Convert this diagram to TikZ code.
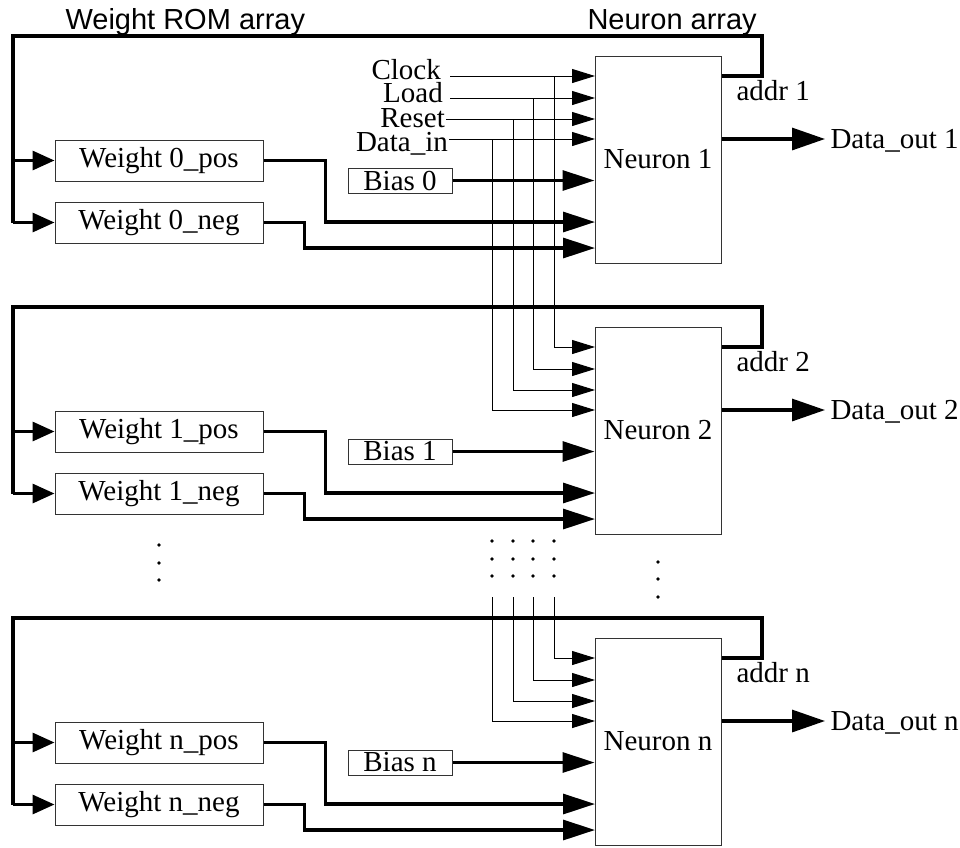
\documentclass[tikz,border=0pt]{standalone}
\usepackage{fontspec}
\setmainfont{Liberation Serif}
\newfontfamily\headfont{Liberation Sans}
\usetikzlibrary{arrows.meta}

\tikzset{
    wbox/.style={draw=black!80, line width=1pt, minimum width=208pt, minimum height=41pt, inner sep=0pt},
    neuron/.style={draw=black!80, line width=1pt, minimum width=126pt, minimum height=207pt, inner sep=0pt},
    biasbox/.style={draw=black!80, line width=1pt, minimum width=104pt, minimum height=25pt, inner sep=0pt},
    head/.style={font=\fontsize{29pt}{34pt}\headfont, anchor=base west},
    ctrl/.style={anchor=base east, inner sep=0pt},
    bus/.style={line width=3.2pt},
    sig/.style={line width=1pt},
    sigarrow/.style={sig, -{Triangle[length=23pt,width=14pt]}},
    busarrow/.style={bus, -{Triangle[length=32pt,width=20pt]}},
    romarrow/.style={bus, -{Triangle[length=22pt,width=19pt]}},
    outarrow/.style={bus, -{Triangle[length=33pt,width=22pt]}},
}

\begin{document}
\begin{tikzpicture}[x=1pt, y=-1pt, font=\fontsize{29pt}{34pt}\selectfont]
    \useasboundingbox (0,0) rectangle (960,847);

    % Headings
    \node[head] (romhead) at (62,29) {Weight ROM array};
    \node[head] (neuhead) at (584,29) {Neuron array};

    % Stages
    \foreach \i/\s/\w/\dy in {1/1/0/0, 2/2/1/271, 3/n/n/582} {
        \node[neuron] (neu\i) at (658,{159.5+\dy}) {Neuron \s};
        \node[wbox] (wpos\i) at (159,{160.5+\dy}) {Weight \w\_pos};
        \node[wbox] (wneg\i) at (159,{222.5+\dy}) {Weight \w\_neg};
        \node[biasbox] (bias\i) at (400,{180.5+\dy}) {Bias \w};

        % Address bus
        \coordinate (ad\i) at (762,{76+\dy});
        \coordinate (tl\i) at (13,{36+\dy});
        \draw[bus] (neu\i.east |- ad\i) -- (ad\i) |- (tl\i) -- (tl\i |- wneg\i.west);
        \draw[romarrow] (tl\i |- wpos\i.west) -- (wpos\i.west);
        \draw[romarrow] (tl\i |- wneg\i.west) -- (wneg\i.west);
        \node[anchor=base west] (addr\i) at (733,{100+\dy}) {addr \s};

        % Weights and bias into neuron
        \coordinate (ip\i) at (595,{222+\dy});
        \coordinate (in\i) at (595,{248+\dy});
        \draw[busarrow] (wpos\i.east) -- ++(62,0) |- (ip\i);
        \draw[busarrow] (wneg\i.east) -- ++(41,0) |- (in\i);
        \draw[busarrow] (bias\i.east) -- (bias\i.east -| neu\i.west);

        % Output
        \coordinate (dt\i) at (825,{139+\dy});
        \draw[outarrow] (neu\i.east |- dt\i) -- (dt\i);
        \node[anchor=base west] (out\i) at (827,{148+\dy}) {Data\_out \s};

        % Control inputs
        \foreach \sg/\y in {clk/76, ld/98, rst/119, din/139}
            \coordinate (\sg\i) at (595,{\y+\dy});
    }

    % Control labels
    \node[ctrl] (lclk) at (441,79) {Clock};
    \node[ctrl] (lld) at (443,102) {Load};
    \node[ctrl] (lrst) at (445,127) {Reset};
    \node[ctrl] (ldin) at (448,151) {Data\_in};

    % Control lines
    \foreach \sg/\x/\y/\sx in {clk/554/76/450, ld/533/98/450, rst/513/119/446, din/492/139/449} {
        \coordinate (s\sg) at (\sx,\y);
        \coordinate (b\sg) at (\x,\y);
        \coordinate (c\sg) at (\x,597);
        \draw[sigarrow] (s\sg) -- (\sg1);
        \draw[sigarrow] (b\sg) |- (\sg2);
        \draw[sigarrow] (c\sg) |- (\sg3);
    }

    % Dots
    \foreach \y in {545,563,580} \fill (159,\y) circle (1.8pt);
    \foreach \x in {492,513,533,554}
        \foreach \y in {541,559,576} \fill (\x,\y) circle (1.8pt);
    \foreach \y in {562,579,597} \fill (658,\y) circle (1.8pt);

\end{tikzpicture}
\end{document}
